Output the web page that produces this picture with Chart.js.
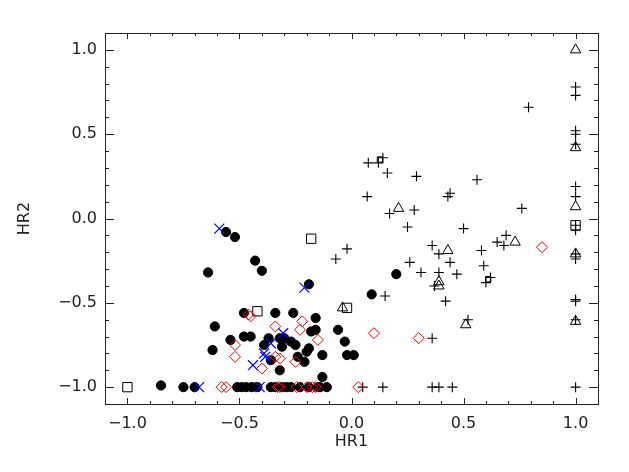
<!DOCTYPE html>
<html>
<head>
<meta charset="utf-8">
<script src="https://cdn.jsdelivr.net/npm/chart.js@4/dist/chart.umd.min.js"></script>
<style>
  body { margin: 0; background: #fff; }
  canvas { display: block; }
</style>
</head>
<body>
<canvas id="myChart" width="629" height="472"></canvas>
<script>
// HR1 / HR2 pairs
const circles = [
    [-0.56, -0.08], [-0.52, -0.11], [-0.64, -0.32], [-0.43, -0.25], [-0.40, -0.31],
    [-0.19, -0.39], [-0.48, -0.56], [-0.34, -0.56], [-0.26, -0.56], [-0.16, -0.59],
    [-0.61, -0.64], [-0.06, -0.66], [-0.03, -0.73], [-0.02, -0.81], [0.01, -0.81],
    [-0.13, -0.81], [-0.16, -0.66], [-0.18, -0.67], [-0.54, -0.72], [-0.48, -0.70],
    [-0.45, -0.70], [-0.62, -0.78], [-0.39, -0.75], [-0.37, -0.71], [-0.32, -0.71],
    [-0.30, -0.71], [-0.31, -0.76], [-0.27, -0.73], [-0.25, -0.75], [-0.19, -0.77],
    [-0.20, -0.79], [-0.36, -0.84], [-0.24, -0.82], [-0.21, -0.85], [-0.32, -0.90],
    [-0.13, -0.94], [0.20, -0.33], [0.09, -0.45],
    [-0.85, -0.99], [-0.75, -1], [-0.70, -1], [-0.51, -1], [-0.49, -1], [-0.47, -1],
    [-0.445, -1], [-0.42, -1], [-0.36, -1], [-0.34, -1], [-0.31, -1], [-0.29, -1],
    [-0.27, -1], [-0.23, -1], [-0.19, -1], [-0.15, -1], [-0.14, -1], [-0.11, -1]
];
const diamonds = [
    [0.85, -0.17], [0.10, -0.68], [0.30, -0.71], [0.03, -1], [-0.46, -0.57], [-0.45, -0.58],
    [-0.34, -0.64], [-0.22, -0.61], [-0.23, -0.66], [-0.15, -0.72], [-0.52, -0.75],
    [-0.52, -0.82], [-0.40, -0.89], [-0.34, -0.82], [-0.32, -0.83], [-0.25, -0.85],
    [-0.58, -1], [-0.56, -1], [-0.33, -1], [-0.32, -1], [-0.245, -1], [-0.20, -1],
    [-0.175, -1], [-0.16, -1]
];
const crosses = [
    [-0.59, -0.06], [-0.21, -0.41], [-0.305, -0.68], [-0.36, -0.74], [-0.39, -0.80],
    [-0.385, -0.82], [-0.44, -0.87], [-0.68, -1], [-0.41, -1]
];
const squares = [[-1, -1], [-0.42, -0.55], [-0.18, -0.12], [-0.02, -0.53], [1, -0.04]];
const smallSquares = [[0.127, 0.35], [0.61, -0.36]];
const triangles = [
    [0.21, 0.06], [0.43, -0.19], [0.39, -0.375], [0.39, -0.40], [-0.04, -0.53],
    [0.51, -0.63], [0.73, -0.14], [1, 1.0], [1, 0.42], [1, 0.07], [1, -0.21], [1, -0.61]
];
const pluses = [
    [1, 0.78], [1, 0.73], [0.79, 0.66], [1, 0.52], [1, 0.50], [1, 0.44], [0.075, 0.33],
    [0.12, 0.33], [0.14, 0.36], [0.16, 0.27], [0.29, 0.25], [0.56, 0.23], [0.07, 0.13],
    [0.43, 0.13], [0.44, 0.15], [0.17, 0.03], [0.28, 0.05], [0.76, 0.06], [0.25, -0.05],
    [0.50, -0.06], [0.69, -0.10], [0.65, -0.14], [0.68, -0.16], [0.36, -0.16], [0.39, -0.21],
    [0.58, -0.19], [-0.07, -0.24], [-0.02, -0.18], [0.26, -0.26], [0.44, -0.26],
    [0.31, -0.32], [0.39, -0.32], [0.47, -0.33], [0.59, -0.28], [0.62, -0.35], [0.60, -0.38],
    [0.37, -0.40], [0.42, -0.49], [0.15, -0.46], [0.52, -0.60], [0.36, -0.71],
    [1, 0.19], [1, 0.13], [1, -0.04], [1, -0.07], [1, -0.21], [1, -0.24], [1, -0.48],
    [1, -0.49], [1, -0.60], [1, -1], [0.05, -1], [0.14, -1], [0.36, -1], [0.39, -1], [0.45, -1]
];

const majorTicks = [-1, -0.5, 0, 0.5, 1];
const axisMin = -1.1;
const axisMax = 1.1;
const minorStep = 0.1;

function toPoints(arr) {
    return arr.map(p => ({ x: p[0], y: p[1] }));
}

function fmt(v) {
    return v.toFixed(1).replace('-', '\u2212');
}

const labelFont = { family: 'DejaVu Sans', size: 16 };
const textColor = '#222';

// box and inward ticks on all four sides, like the IDL plot
const frameTicks = {
    id: 'frameTicks',
    afterDraw(chart) {
        const { ctx, chartArea: a, scales } = chart;
        ctx.save();
        ctx.strokeStyle = '#222';
        ctx.lineWidth = 1;
        ctx.strokeRect(a.left + 0.5, a.top + 0.5, a.right - a.left, a.bottom - a.top);
        ctx.beginPath();
        const n = Math.round((axisMax - axisMin) / minorStep);
        for (let i = 0; i <= n; i++) {
            const v = +(axisMin + i * minorStep).toFixed(2);
            const major = majorTicks.some(m => Math.abs(m - v) < 1e-6);
            const px = Math.round(scales.x.getPixelForValue(v)) + 0.5;
            const lx = major ? 6 : 3;
            ctx.moveTo(px, a.bottom); ctx.lineTo(px, a.bottom - lx);
            ctx.moveTo(px, a.top); ctx.lineTo(px, a.top + lx);
            const py = Math.round(scales.y.getPixelForValue(v)) + 0.5;
            const ly = major ? 9 : 4;
            ctx.moveTo(a.left, py); ctx.lineTo(a.left + ly, py);
            ctx.moveTo(a.right, py); ctx.lineTo(a.right - ly, py);
        }
        ctx.stroke();
        ctx.restore();
    }
};

function axis(title, fitFn, titlePad, tickPad) {
    return {
        type: 'linear',
        min: axisMin,
        max: axisMax,
        bounds: 'data',
        grid: { display: false, drawTicks: false },
        border: { display: false },
        afterBuildTicks: s => { s.ticks = majorTicks.map(v => ({ value: v })); },
        afterFit: fitFn,
        ticks: { font: labelFont, color: textColor, padding: tickPad, callback: v => fmt(v) },
        title: { display: true, text: title, font: labelFont, color: textColor, padding: titlePad }
    };
}

const ctx = document.getElementById('myChart').getContext('2d');
const chart = new Chart(ctx, {
    type: 'scatter',
    data: {
        datasets: [
            { data: toPoints(crosses), pointStyle: 'crossRot', pointRadius: 7, borderColor: '#0000ff', borderWidth: 1.2 },
            { data: toPoints(diamonds), pointStyle: 'rectRot', pointRadius: 5.5, borderColor: '#ff0000', backgroundColor: 'transparent', borderWidth: 1 },
            { data: toPoints(squares), pointStyle: 'rect', pointRadius: 6.6, borderColor: '#000', backgroundColor: 'transparent', borderWidth: 1 },
            { data: toPoints(smallSquares), pointStyle: 'rect', pointRadius: 3.8, borderColor: '#000', backgroundColor: 'transparent', borderWidth: 1 },
            { data: toPoints(triangles), pointStyle: 'triangle', pointRadius: 6, borderColor: '#000', backgroundColor: 'transparent', borderWidth: 1 },
            { data: toPoints(pluses), pointStyle: 'cross', pointRadius: 5, borderColor: '#000', borderWidth: 1.1 },
            { data: toPoints(circles), pointStyle: 'circle', pointRadius: 4.6, borderColor: '#000', backgroundColor: '#000', borderWidth: 1 }
        ]
    },
    options: {
        responsive: false,
        animation: false,
        devicePixelRatio: 1,
        layout: { padding: { top: 33, right: 31, left: 0, bottom: 0 } },
        plugins: {
            legend: { display: false },
            tooltip: { enabled: false }
        },
        scales: {
            x: axis('HR1', s => { s.height = 68; }, { top: 0, bottom: 21 }, 10),
            y: axis('HR2', s => { s.width = 105; }, { top: 15, bottom: 0 }, 8)
        }
    },
    plugins: [frameTicks]
});
</script>
</body>
</html>
